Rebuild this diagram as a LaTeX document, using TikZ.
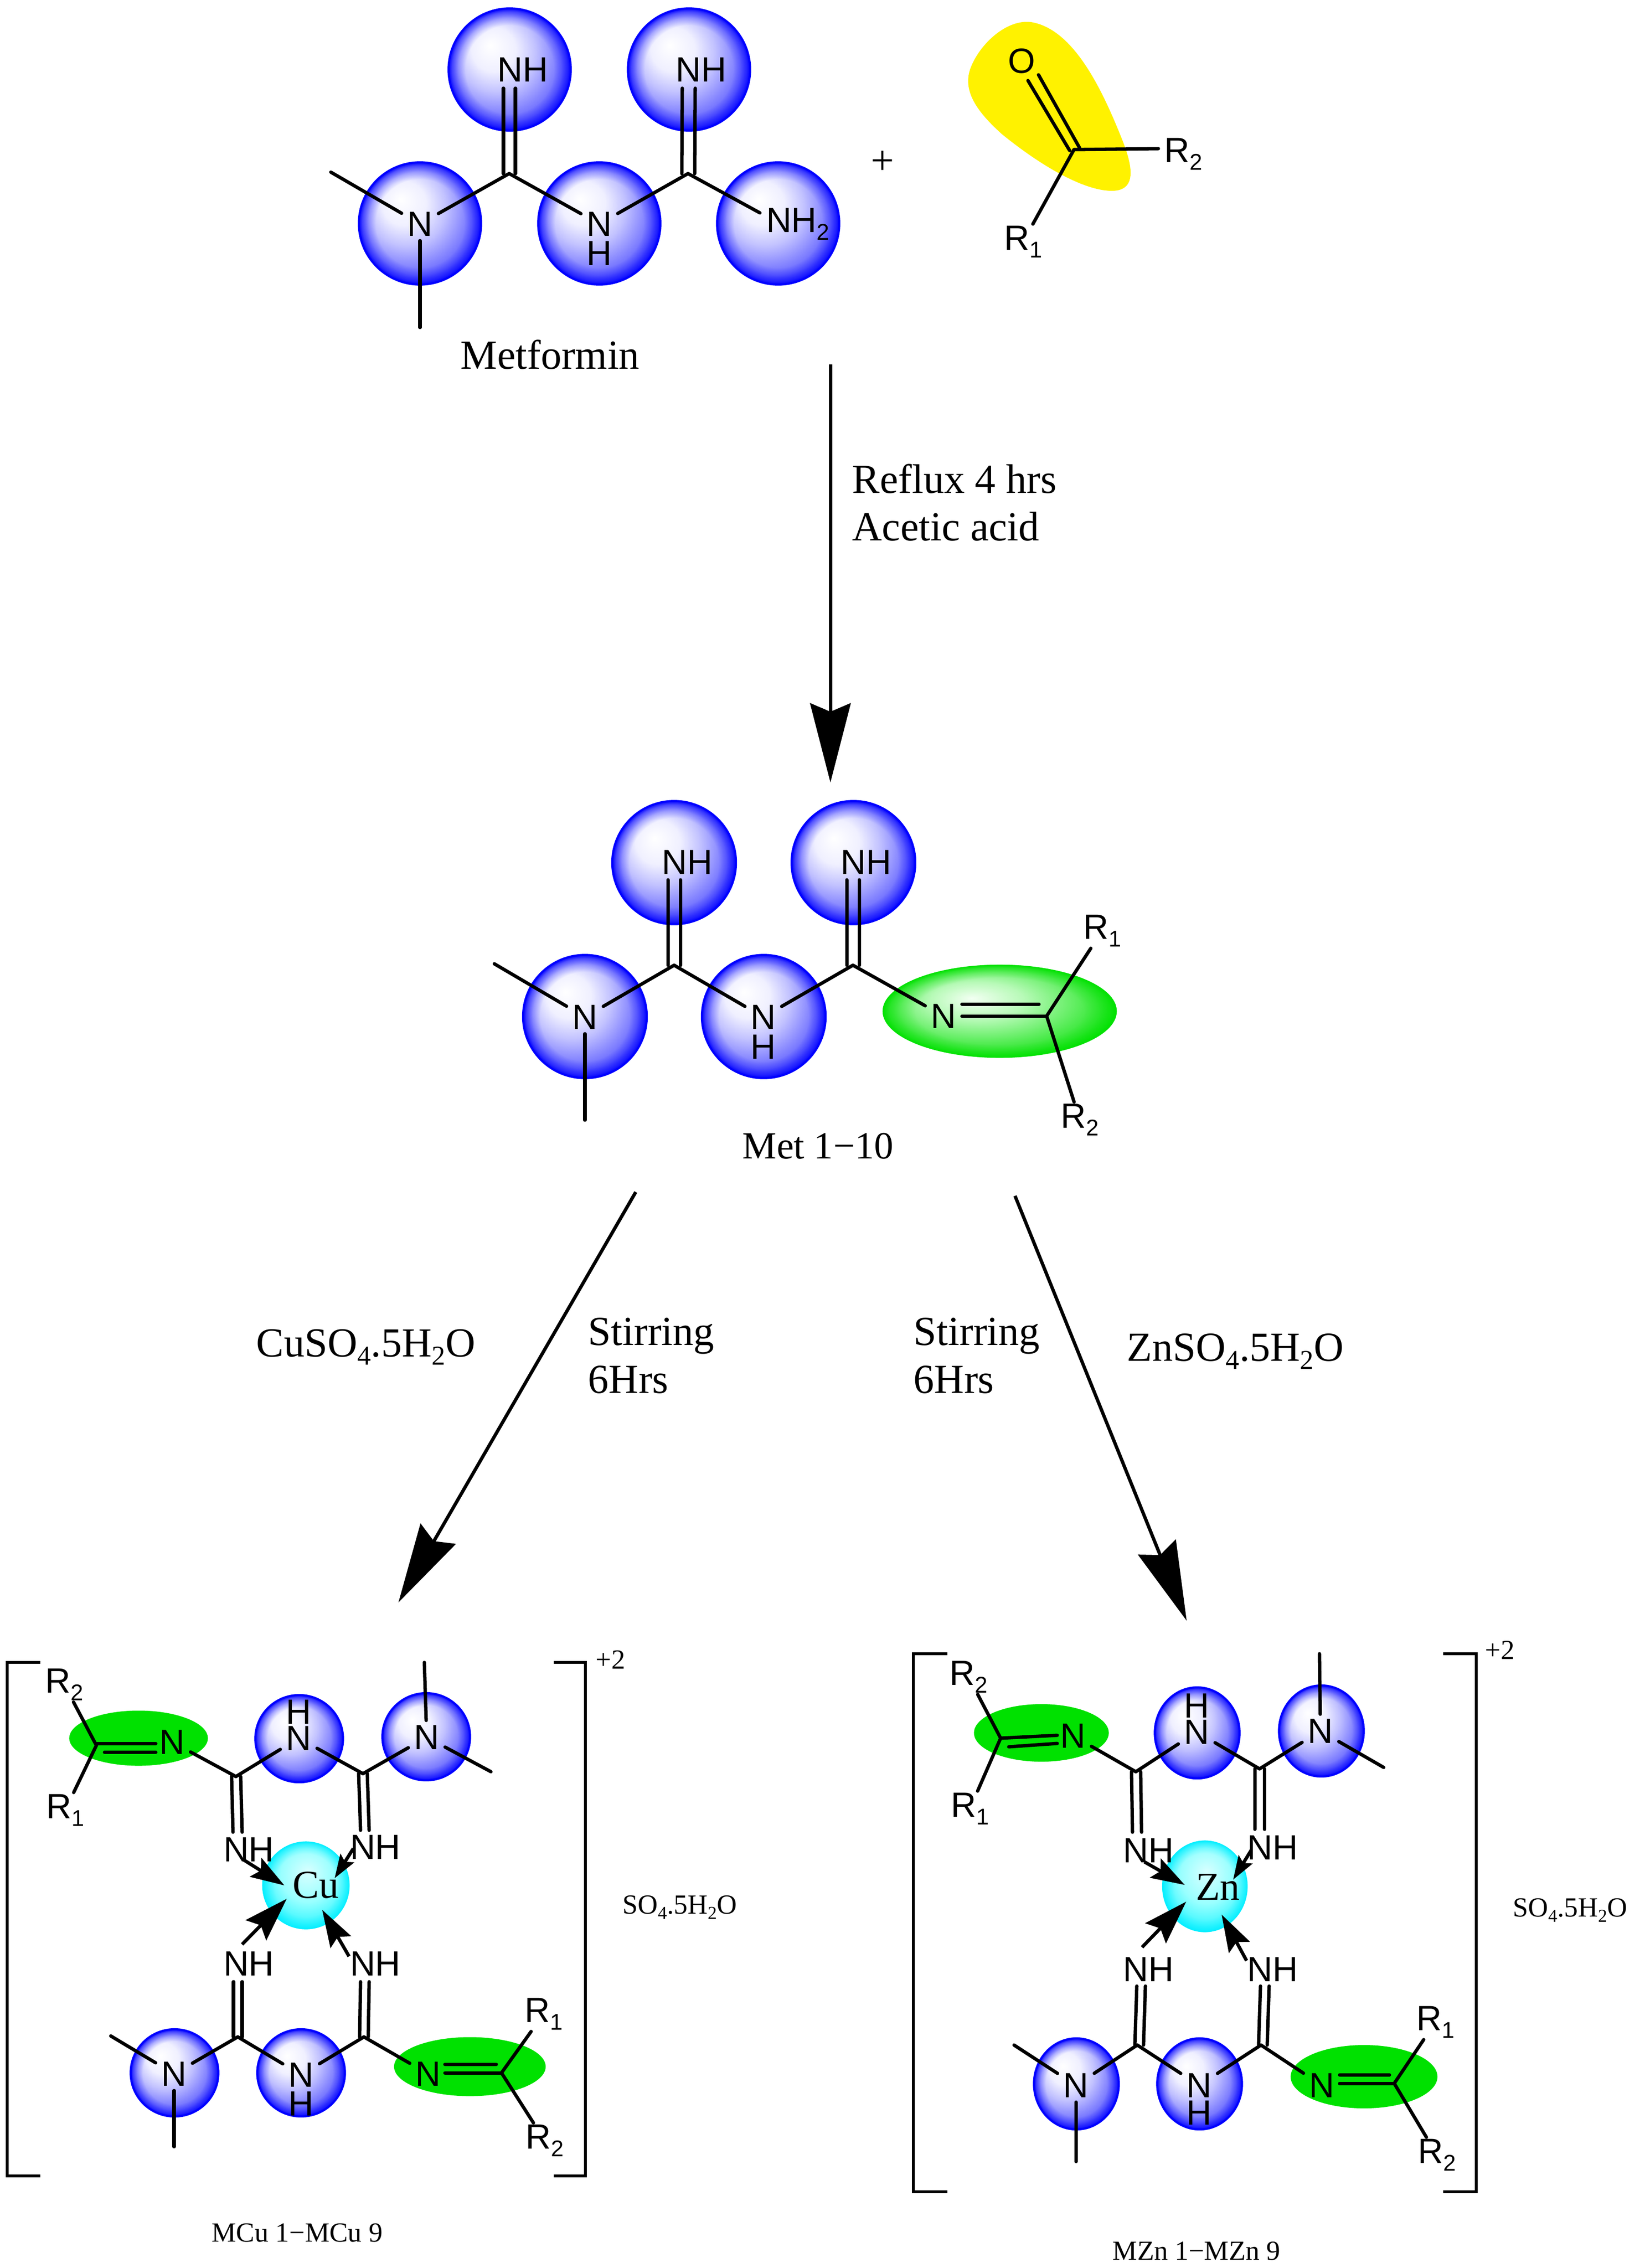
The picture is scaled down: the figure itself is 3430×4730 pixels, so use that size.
\documentclass[tikz,border=0pt]{standalone}
\usepackage{fontspec}
\setmainfont{Liberation Serif}
\newfontfamily\atomfont{Liberation Sans}
\usetikzlibrary{arrows.meta,shapes.geometric,calc,fadings}
\pgfdeclareradialshading{bluesph}{\pgfpoint{-8bp}{10bp}}{rgb(0bp)=(1,1,1);rgb(9bp)=(.94,.94,1);rgb(16bp)=(.76,.76,1);rgb(26bp)=(.42,.42,1);rgb(32bp)=(.16,.16,1);rgb(36bp)=(0,0,1);rgb(50bp)=(0,0,1)}
\pgfdeclareradialshading{greensph}{\pgfpoint{-6bp}{7bp}}{rgb(0bp)=(.95,1,.95);rgb(10bp)=(.72,.98,.72);rgb(22bp)=(.3,.92,.3);rgb(32bp)=(0,.88,0);rgb(50bp)=(0,.88,0)}
\pgfdeclareradialshading{cyansph}{\pgfpoint{1bp}{8bp}}{rgb(0bp)=(.85,1,1);rgb(15bp)=(.6,1,1);rgb(25bp)=(.25,.97,1);rgb(33bp)=(0,.93,1);rgb(50bp)=(0,.93,1)}
\pgfdeclareradialshading{rimshade}{\pgfpointorigin}{color(0bp)=(black);color(18bp)=(black);color(21bp)=(black!75);color(23.5bp)=(black!40);color(25bp)=(white);color(50bp)=(white)}
\pgfdeclarefading{rimfade}{\pgfuseshading{rimshade}}
\definecolor{flatgreen}{RGB}{0,225,0}
\definecolor{rimcyan}{RGB}{0,238,255}
\definecolor{rimgreen}{RGB}{0,225,0}
\newcommand{\sbs}[1]{\raisebox{-.22em}{\fontsize{13.5}{13.5}\selectfont #1}}
\newcommand{\ssb}[1]{\raisebox{-.2em}{\scalebox{.66}{#1}}}
\newcommand{\twobond}[4]{\draw[bond] ([shift={#3}]#1) -- ([shift={#3}]#2);\draw[bond] ([shift={#4}]#1) -- ([shift={#4}]#2);}
\tikzset{
  x=0.01cm,y=-0.01cm,
  bond/.style={line width=2pt,line cap=round},
  bracket/.style={line width=1.9pt,line join=miter},
  atom/.style={font=\atomfont\fontsize{20.8}{20.8}\selectfont,inner xsep=3.4pt,inner ysep=2.8pt,outer sep=0pt},
  rlabel/.style={font=\atomfont\fontsize{20.8}{20.8}\selectfont,inner sep=1pt,outer sep=0pt},
  serifbig/.style={font=\fontsize{24.5}{24.5}\selectfont,anchor=base west,inner sep=0pt},
  serifmid/.style={font=\fontsize{22.8}{22.8}\selectfont,inner sep=0pt},
  serifsmall/.style={font=\fontsize{16.4}{16.4}\selectfont,anchor=base west,inner sep=0pt},
  metal/.style={font=\fontsize{23.5}{23.5}\selectfont,inner sep=0pt},
  ball/.style={ellipse,inner sep=0pt,outer sep=0pt,shading=bluesph,draw=blue,line width=1.2pt,minimum width=#1,
    postaction={fill=blue,draw=none,path fading=rimfade,fit fading=true}},
  greenball/.style={ellipse,inner sep=0pt,shading=greensph,
    postaction={fill=rimgreen,draw=none,path fading=rimfade,fit fading=true}},
  cyanball/.style={ellipse,inner sep=0pt,shading=cyansph,
    postaction={fill=rimcyan,draw=none,path fading=rimfade,fit fading=true}},
  flat/.style={ellipse,inner sep=0pt,fill=flatgreen},
  bigarrow/.style={line width=2pt,-{Stealth[length=47pt,width=24pt,inset=5pt]}},
  tipLL/.style={bond,line cap=butt,-{Stealth[length=26pt,width=17pt,inset=4pt]}},
  tipUL/.style={bond,line cap=butt,-{Stealth[length=20pt,width=13pt,inset=3.5pt]}},
  tipUR/.style={bond,line cap=butt,-{Stealth[length=14pt,width=9.5pt,inset=2.5pt]}},
  tipLR/.style={bond,line cap=butt,-{Stealth[length=22pt,width=14pt,inset=3.5pt]}},
}
\begin{document}
\begin{tikzpicture}
\useasboundingbox (0,0) rectangle (3430,4730);
% ---------- shapes ----------
\node[ball=2.55cm,minimum height=2.55cm] (bm1) at (1063,145) {};
\node[ball=2.55cm,minimum height=2.55cm] (bm2) at (1437,145) {};
\node[ball=2.55cm,minimum height=2.55cm] (bm3) at (876,466) {};
\node[ball=2.55cm,minimum height=2.55cm] (bm4) at (1250,466) {};
\node[ball=2.55cm,minimum height=2.55cm] (bm5) at (1623,466) {};
\fill[yellow] (2150,46) .. controls (2240,60) and (2300,190) .. (2340,290) .. controls (2360,340) and (2375,398) .. (2319,398) .. controls (2260,398) and (2170,345) .. (2090,280) .. controls (2040,235) and (2005,190) .. (2025,140) .. controls (2045,90) and (2100,40) .. (2150,46) -- cycle;
\node[ball=2.58cm,minimum height=2.57cm] (bn1) at (1406,1799) {};
\node[ball=2.58cm,minimum height=2.57cm] (bn2) at (1780,1799) {};
\node[ball=2.58cm,minimum height=2.57cm] (bn3) at (1220,2120) {};
\node[ball=2.58cm,minimum height=2.57cm] (bn4) at (1593,2120) {};
\node[greenball,minimum width=4.88cm,minimum height=1.94cm] (gn) at (2085,2109) {};
% Cu shapes
\node[ball=1.83cm,minimum height=1.82cm] (bc1) at (624,3626) {};
\node[ball=1.83cm,minimum height=1.82cm] (bc2) at (889,3622) {};
\node[ball=1.83cm,minimum height=1.82cm] (bc3) at (364,4323) {};
\node[ball=1.83cm,minimum height=1.82cm] (bc4) at (628,4323) {};
\node[flat,minimum width=2.89cm,minimum height=1.15cm] (gc1) at (289,3625) {};
\node[flat,minimum width=3.16cm,minimum height=1.23cm] (gc2) at (980,4310) {};
\node[cyanball,minimum width=1.82cm,minimum height=1.83cm] (cu) at (638,3932) {};
% Zn shapes
\node[ball=1.77cm,minimum height=1.90cm] (bz1) at (2497,3614) {};
\node[ball=1.77cm,minimum height=1.90cm] (bz2) at (2756,3610) {};
\node[ball=1.77cm,minimum height=1.90cm] (bz3) at (2245,4346) {};
\node[ball=1.77cm,minimum height=1.90cm] (bz4) at (2502,4346) {};
\node[flat,minimum width=2.81cm,minimum height=1.20cm] (gz1) at (2172,3614) {};
\node[flat,minimum width=3.06cm,minimum height=1.32cm] (gz2) at (2845,4331) {};
\node[cyanball,minimum width=1.78cm,minimum height=1.91cm] (zn) at (2513,3934) {};
% ---------- Metformin ----------
\node[atom] (mN1) at (876,467) {N};
\node[atom] (mN2) at (1250,467) {N};
\node[atom] (mH2) at (1250,528) {H};
\node[atom,anchor=west,inner xsep=0pt] (mN3) at (1598,467) {NH\sbs{2}};
\node[atom] (mNH1) at (1090,145) {NH};
\node[atom] (mNH2) at (1462,145) {NH};
\coordinate (mC1) at (1062,362);
\coordinate (mC2) at (1435,362);
\coordinate (mT1) at (1062,184);
\coordinate (mT2) at (1436,184);
\coordinate (mMe1) at (690,359);
\coordinate (mMe2) at (876,683);
\coordinate (mN3e) at (1585,444);
\draw[bond] (mMe1) -- (mN1);
\draw[bond] (mMe2) -- (mN1);
\draw[bond] (mN1) -- (mC1);
\draw[bond] (mC1) -- (mN2);
\draw[bond] (mN2) -- (mC2);
\draw[bond] (mC2) -- (mN3e);
\twobond{mC1}{mT1}{(-12,0)}{(13,0)}
\twobond{mC2}{mT2}{(-13,0)}{(14,0)}
\node[serifbig] (metf) at (960,769) {Metformin};
\node[font=\fontsize{24.5}{24.5}\selectfont,inner sep=0pt] (plus) at (1841,339) {+};
% ketone
\node[atom] (kO) at (2131,127) {O};
\node[rlabel] (kR2) at (2468,321) {R\sbs{2}};
\node[rlabel] (kR1) at (2134,504) {R\sbs{1}};
\coordinate (kC) at (2240,312);
\coordinate (kE2) at (2416,310);
\draw[bond] (kC) -- (kE2);
\draw[bond] (kC) -- (kR1);
\coordinate (kA1) at (2144,168);
\coordinate (kA2) at (2231,314);
\coordinate (kB1) at (2166,156);
\coordinate (kB2) at (2252,309);
\draw[bond] (kA1) -- (kA2);
\draw[bond] (kB1) -- (kB2);
% arrow 1
\coordinate (a1s) at (1732,760);
\coordinate (a1e) at (1732,1632);
\draw[bigarrow] (a1s) -- (a1e);
\node[serifbig] (t1) at (1777,1028) {Reflux 4 hrs};
\node[serifbig] (t2) at (1777,1127) {Acetic acid};
% ---------- Met 1-10 ----------
\node[atom] (nN1) at (1220,2121) {N};
\node[atom] (nN2) at (1592,2121) {N};
\node[atom] (nH2) at (1592,2183) {H};
\node[atom] (nN3) at (1968,2119) {N};
\node[atom] (nNH1) at (1433,1798) {NH};
\node[atom] (nNH2) at (1806,1798) {NH};
\node[rlabel] (nR1) at (2299,1941) {R\sbs{1}};
\node[rlabel] (nR2) at (2252,2335) {R\sbs{2}};
\coordinate (nC1) at (1406,2013);
\coordinate (nC2) at (1779,2013);
\coordinate (nC3) at (2183,2119);
\coordinate (nT1) at (1406,1835);
\coordinate (nT2) at (1779,1835);
\coordinate (nMe1) at (1031,2010);
\coordinate (nMe2) at (1220,2336);
\draw[bond] (nMe1) -- (nN1);
\draw[bond] (nMe2) -- (nN1);
\draw[bond] (nN1) -- (nC1);
\draw[bond] (nC1) -- (nN2);
\draw[bond] (nN2) -- (nC2);
\draw[bond] (nC2) -- (nN3);
\draw[bond] (nN3.east) -- (nC3);
\draw[bond] ([shift={(0,-25)}]nN3.east) -- ([shift={(-16,-25)}]nC3);
\draw[bond] (nC3) -- (nR1);
\draw[bond] (nC3) -- (nR2);
\twobond{nC1}{nT1}{(-13,0)}{(13,0)}
\twobond{nC2}{nT2}{(-13,0)}{(13,0)}
\node[serifmid,anchor=base west] (metl) at (1548,2416) {Met 1−10};
% big arrows
\coordinate (a2s) at (1326,2486);
\coordinate (a2e) at (831,3342);
\coordinate (a3s) at (2117,2494);
\coordinate (a3e) at (2475,3380);
\draw[bigarrow] (a2s) -- (a2e);
\draw[bigarrow] (a3s) -- (a3e);
\node[serifbig] (t3) at (534,2829) {CuSO\ssb{4}.5H\ssb{2}O};
\node[serifbig] (t4) at (1226,2805) {Stirring};
\node[serifbig] (t5) at (1226,2905) {6Hrs};
\node[serifbig] (t6) at (1905,2805) {Stirring};
\node[serifbig] (t7) at (1905,2905) {6Hrs};
\node[serifbig] (t8) at (2350,2838) {ZnSO\ssb{4}.5H\ssb{2}O};
% ---------- Cu complex ----------
\coordinate (cbL1) at (84,3467);
\coordinate (cbL2) at (84,4538);
\coordinate (cbR1) at (1155,3467);
\coordinate (cbR2) at (1155,4538);
\draw[bracket] (cbL1) -- (15,3467) -- (15,4538) -- (cbL2);
\draw[bracket] (cbR1) -- (1221,3467) -- (1221,4538) -- (cbR2);
\node[serifsmall] (cplus) at (1242,3480) {+2};
\node[serifsmall] (cso) at (1298,3991) {SO\ssb{4}.5H\ssb{2}O};
\node[rlabel] (cR2a) at (134,3513) {R\sbs{2}};
\node[rlabel] (cR1a) at (136,3775) {R\sbs{1}};
\node[rlabel] (cR1b) at (1134,4200) {R\sbs{1}};
\node[rlabel] (cR2b) at (1136,4464) {R\sbs{2}};
\node[atom] (cNa) at (359,3633) {N};
\node[atom] (cNb) at (623,3625) {N};
\node[atom] (cHb) at (623,3570) {H};
\node[atom] (cNc) at (890,3623) {N};
\node[atom] (cNH1) at (519,3857) {NH};
\node[atom] (cNH2) at (783,3852) {NH};
\node[atom] (cNH3) at (519,4095) {NH};
\node[atom] (cNH4) at (783,4095) {NH};
\node[atom] (cNd) at (363,4325) {N};
\node[atom] (cNe) at (628,4327) {N};
\node[atom] (cHe) at (628,4387) {H};
\node[atom] (cNf) at (893,4325) {N};
\node[metal] (cuT) at (659,3931) {Cu};
\coordinate (cC0) at (201,3640);
\coordinate (cC1) at (492,3705);
\coordinate (cC2) at (757,3699);
\coordinate (cT1) at (495,3821);
\coordinate (cT2) at (761,3817);
\coordinate (cMe1) at (885,3467);
\coordinate (cMe2) at (1024,3695);
\coordinate (cC3) at (496,4248);
\coordinate (cC4) at (759,4248);
\coordinate (cC5) at (1046,4323);
\coordinate (cT3) at (496,4133);
\coordinate (cT4) at (761,4133);
\coordinate (cMe3) at (231,4246);
\coordinate (cMe4) at (363,4477);
\draw[bond] (cC0) -- (cR2a);
\draw[bond] (cC0) -- (cR1a);
\draw[bond] ([shift={(-34,3)}]cNa.center) -- ([shift={(0,-4)}]cC0);
\draw[bond] ([shift={(-34,21)}]cNa.center) -- ([shift={(17,14)}]cC0);
\draw[bond] (cNa) -- (cC1);
\draw[bond] (cC1) -- (cNb);
\draw[bond] (cNb) -- (cC2);
\draw[bond] (cC2) -- (cNc);
\draw[bond] (cNc) -- (cMe1);
\draw[bond] (cNc) -- (cMe2);
\twobond{cC1}{cT1}{(-9,0)}{(10,0)}
\twobond{cC2}{cT2}{(-9,0)}{(9,0)}
\draw[bond] (cMe3) -- (cNd);
\draw[bond] (cMe4) -- (cNd);
\draw[bond] (cNd) -- (cC3);
\draw[bond] (cC3) -- (cNe);
\draw[bond] (cNe) -- (cC4);
\draw[bond] (cC4) -- (cNf);
\draw[bond] ([shift={(35,-20)}]cNf.center) -- ([shift={(-11,-18)}]cC5);
\draw[bond] ([shift={(35,-2)}]cNf.center) -- (cC5);
\draw[bond] (cC5) -- (cR1b);
\draw[bond] (cC5) -- (cR2b);
\twobond{cC3}{cT3}{(-9,0)}{(9,0)}
\twobond{cC4}{cT4}{(-9,0)}{(9,0)}
\coordinate (cA1s) at (507,3878); \coordinate (cA1e) at (593,3932);
\coordinate (cA2s) at (737,3855); \coordinate (cA2e) at (698,3917);
\coordinate (cA3s) at (505,4055); \coordinate (cA3e) at (598,3960);
\coordinate (cA4s) at (728,4080); \coordinate (cA4e) at (672,3983);
\draw[tipUL] (cA1s) -- (cA1e);
\draw[tipUR] (cA2s) -- (cA2e);
\draw[tipLL] (cA3s) -- (cA3e);
\draw[tipLR] (cA4s) -- (cA4e);
\node[serifsmall] (clab) at (441,4675) {MCu 1−MCu 9};
% ---------- Zn complex ----------
\coordinate (zbL1) at (1976,3449);
\coordinate (zbL2) at (1976,4571);
\coordinate (zbR1) at (3010,3449);
\coordinate (zbR2) at (3010,4571);
\draw[bracket] (zbL1) -- (1905,3449) -- (1905,4571) -- (zbL2);
\draw[bracket] (zbR1) -- (3079,3449) -- (3079,4571) -- (zbR2);
\node[serifsmall] (zplus) at (3097,3460) {+2};
\node[serifsmall] (zso) at (3155,3997) {SO\ssb{4}.5H\ssb{2}O};
\node[rlabel] (zR2a) at (2020,3497) {R\sbs{2}};
\node[rlabel] (zR1a) at (2023,3772) {R\sbs{1}};
\node[rlabel] (zR1b) at (2994,4217) {R\sbs{1}};
\node[rlabel] (zR2b) at (2997,4494) {R\sbs{2}};
\node[atom] (zNa) at (2238,3620) {N};
\node[atom] (zNb) at (2496,3612) {N};
\node[atom] (zHb) at (2496,3557) {H};
\node[atom] (zNc) at (2754,3610) {N};
\node[atom] (zNH1) at (2395,3859) {NH};
\node[atom] (zNH2) at (2654,3853) {NH};
\node[atom] (zNH3) at (2395,4107) {NH};
\node[atom] (zNH4) at (2654,4107) {NH};
\node[atom] (zNd) at (2244,4349) {N};
\node[atom] (zNe) at (2501,4349) {N};
\node[atom] (zHe) at (2501,4406) {H};
\node[atom] (zNf) at (2757,4349) {N};
\node[metal] (znT) at (2540,3935) {Zn};
\coordinate (zC0) at (2087,3625);
\coordinate (zC1) at (2369,3695);
\coordinate (zC2) at (2627,3689);
\coordinate (zT1) at (2371,3821);
\coordinate (zT2) at (2627,3815);
\coordinate (zMe1) at (2752,3449);
\coordinate (zMe2) at (2886,3686);
\coordinate (zC3) at (2372,4265);
\coordinate (zC4) at (2630,4265);
\coordinate (zC5) at (2908,4345);
\coordinate (zT3) at (2376,4142);
\coordinate (zT4) at (2634,4142);
\coordinate (zMe3) at (2115,4265);
\coordinate (zMe4) at (2244,4508);
\draw[bond] (zC0) -- (zR2a);
\draw[bond] (zC0) -- (zR1a);
\draw[bond] ([shift={(-33,-1)}]zNa.center) -- (zC0);
\draw[bond] ([shift={(-33,16)}]zNa.center) -- ([shift={(17,18)}]zC0);
\draw[bond] (zNa) -- (zC1);
\draw[bond] (zC1) -- (zNb);
\draw[bond] (zNb) -- (zC2);
\draw[bond] (zC2) -- (zNc);
\draw[bond] (zNc) -- (zMe1);
\draw[bond] (zNc) -- (zMe2);
\twobond{zC1}{zT1}{(-9,0)}{(10,0)}
\twobond{zC2}{zT2}{(-10,0)}{(10,0)}
\draw[bond] (zMe3) -- (zNd);
\draw[bond] (zMe4) -- (zNd);
\draw[bond] (zNd) -- (zC3);
\draw[bond] (zC3) -- (zNe);
\draw[bond] (zNe) -- (zC4);
\draw[bond] (zC4) -- (zNf);
\draw[bond] ([shift={(37,-22)}]zNf.center) -- ([shift={(-10,-18)}]zC5);
\draw[bond] ([shift={(37,-4)}]zNf.center) -- (zC5);
\draw[bond] (zC5) -- (zR1b);
\draw[bond] (zC5) -- (zR2b);
\twobond{zC3}{zT3}{(-5,0)}{(13,0)}
\twobond{zC4}{zT4}{(-5,0)}{(13,0)}
\coordinate (zA1s) at (2387,3883); \coordinate (zA1e) at (2471,3931);
\coordinate (zA2s) at (2610,3858); \coordinate (zA2e) at (2572,3920);
\coordinate (zA3s) at (2382,4061); \coordinate (zA3e) at (2474,3966);
\coordinate (zA4s) at (2600,4089); \coordinate (zA4e) at (2548,3993);
\draw[tipUL] (zA1s) -- (zA1e);
\draw[tipUR] (zA2s) -- (zA2e);
\draw[tipLL] (zA3s) -- (zA3e);
\draw[tipLR] (zA4s) -- (zA4e);
\node[serifsmall] (zlab) at (2320,4713) {MZn 1−MZn 9};
\end{tikzpicture}
\end{document}
